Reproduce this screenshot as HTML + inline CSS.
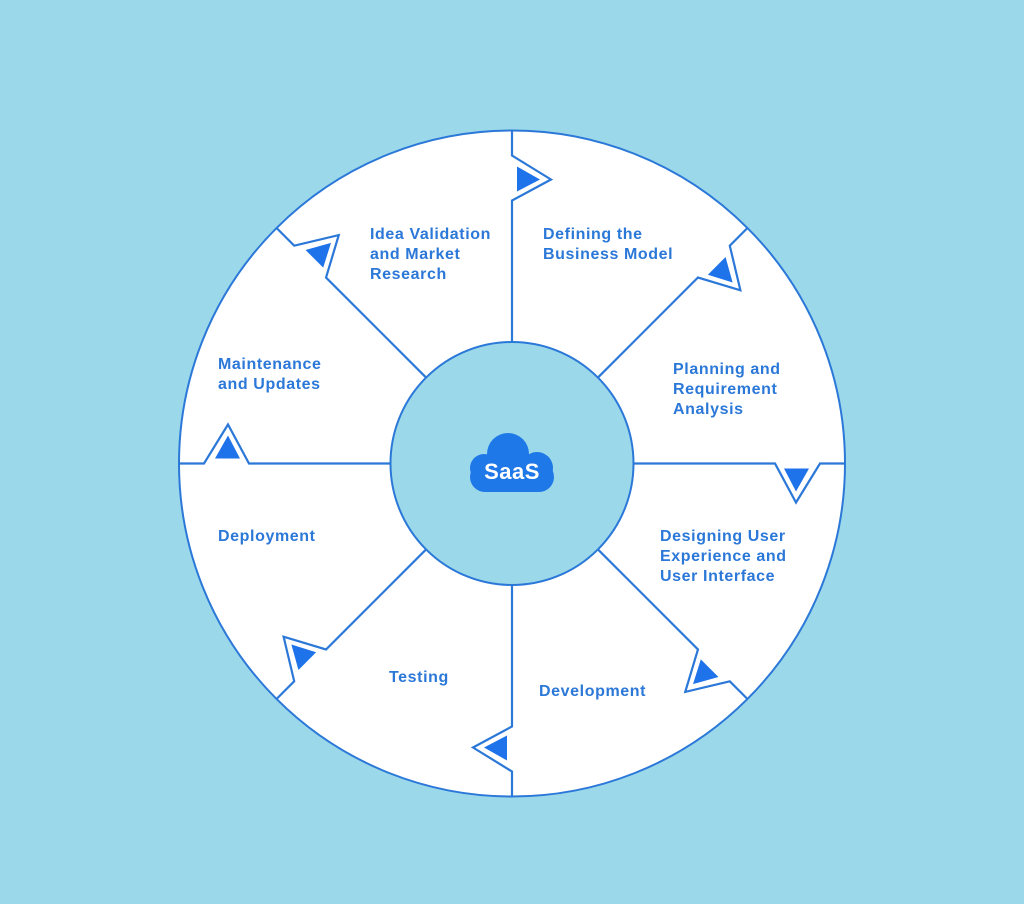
<!DOCTYPE html>
<html><head><meta charset="utf-8"><style>
html,body{margin:0;padding:0;background:#9bd8ea;}
svg{display:block}
text{font-family:"Liberation Sans",sans-serif;font-weight:bold;font-size:16px;fill:#2b78d8;letter-spacing:0.6px}
</style></head><body>
<svg width="1024" height="904" viewBox="0 0 1024 904">
<rect width="1024" height="904" fill="#9bd8ea"/>
<circle cx="512" cy="463.5" r="333" fill="#fff" stroke="#2b78d8" stroke-width="2"/>
<circle cx="512" cy="463.5" r="121.5" fill="#9bd8ea" stroke="#2b78d8" stroke-width="2"/>
<defs>
<g id="n">
<path d="M0,-333 L0,-308 L39,-284 L0,-263 L0,-121" fill="none" stroke="#2b78d8" stroke-width="2.2" stroke-linejoin="miter"/>
<path d="M5,-297 L5,-272 L28,-284 Z" fill="#1f73ea"/>
</g>
</defs>
<g transform="translate(512,463.5)">
<use href="#n"/>
<use href="#n" transform="rotate(45)"/>
<use href="#n" transform="rotate(90)"/>
<use href="#n" transform="rotate(135)"/>
<use href="#n" transform="rotate(180)"/>
<use href="#n" transform="rotate(225)"/>
<use href="#n" transform="rotate(270)"/>
<use href="#n" transform="rotate(315)"/>
</g>
<g fill="#1f78e8">
<circle cx="508" cy="454" r="21"/>
<circle cx="484" cy="468" r="14"/>
<circle cx="537" cy="468" r="16"/>
<rect x="470" y="462" width="84" height="30" rx="15"/>
</g>
<text x="512" y="479" text-anchor="middle" style="fill:#fff;font-size:22px;letter-spacing:0.5px">SaaS</text>
<text x="370" y="239">Idea Validation</text>
<text x="370" y="259">and Market</text>
<text x="370" y="279">Research</text>
<text x="543" y="239">Defining the</text>
<text x="543" y="259">Business Model</text>
<text x="673" y="374">Planning and</text>
<text x="673" y="394">Requirement</text>
<text x="673" y="414">Analysis</text>
<text x="218" y="369">Maintenance</text>
<text x="218" y="389">and Updates</text>
<text x="660" y="541">Designing User</text>
<text x="660" y="561">Experience and</text>
<text x="660" y="581">User Interface</text>
<text x="218" y="541">Deployment</text>
<text x="389" y="682">Testing</text>
<text x="539" y="696">Development</text>
</svg>
</body></html>
